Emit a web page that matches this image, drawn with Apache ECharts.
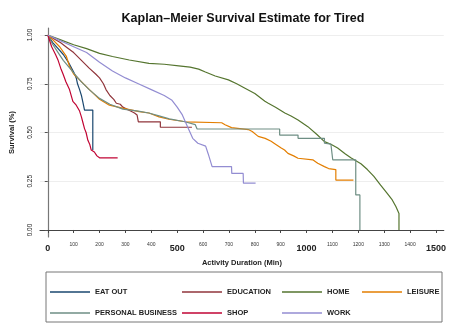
<!DOCTYPE html>
<html>
<head>
<meta charset="utf-8">
<script src="https://cdn.jsdelivr.net/npm/echarts@6/dist/echarts.min.js"></script>
<style>
  html, body { margin: 0; padding: 0; background: #fff; }
  #main { width: 449px; height: 324px; }
</style>
</head>
<body>
<div id="main"></div>
<script>
// survival curves: [minutes, survival]
const eatOut = [[0, 1], [20, 0.96], [40, 0.93], [60, 0.9], [80, 0.86], [100, 0.81], [110, 0.78],
  [115, 0.75], [123, 0.72], [130, 0.69], [135, 0.66], [142, 0.615], [174, 0.615], [174, 0.41]];
const education = [[0, 1], [25, 0.98], [50, 0.96], [75, 0.935], [100, 0.91], [130, 0.87], [160, 0.83],
  [185, 0.8], [200, 0.78], [215, 0.75], [225, 0.72], [240, 0.69], [255, 0.67], [265, 0.65], [280, 0.645],
  [290, 0.63], [305, 0.62], [320, 0.61], [335, 0.6], [345, 0.59], [350, 0.555], [435, 0.555],
  [435, 0.527], [557, 0.527]];
const home = [[0, 1], [50, 0.975], [100, 0.95], [150, 0.93], [200, 0.906], [250, 0.89], [315, 0.872],
  [391, 0.855], [450, 0.85], [506, 0.842], [550, 0.835], [583, 0.825], [609, 0.81], [647, 0.79],
  [698, 0.77], [730, 0.75], [762, 0.727], [800, 0.7], [839, 0.66], [852, 0.65], [880, 0.63], [916, 0.6],
  [940, 0.585], [967, 0.564], [1005, 0.53], [1040, 0.49], [1069, 0.453], [1094, 0.44], [1120, 0.42],
  [1150, 0.39], [1171, 0.37], [1184, 0.36], [1210, 0.34], [1235, 0.31], [1260, 0.275], [1286, 0.23],
  [1310, 0.19], [1331, 0.154], [1345, 0.12], [1357, 0.085], [1357, 0]];
const leisure = [[0, 1], [20, 0.975], [46, 0.94], [72, 0.89], [84, 0.84], [100, 0.8], [123, 0.77],
  [161, 0.72], [200, 0.67], [238, 0.64], [289, 0.625], [353, 0.607], [391, 0.6], [430, 0.58],
  [468, 0.568], [532, 0.555], [672, 0.55], [685, 0.54], [710, 0.525], [775, 0.515], [790, 0.505],
  [813, 0.48], [840, 0.47], [863, 0.455], [880, 0.44], [902, 0.42], [915, 0.41], [928, 0.393],
  [950, 0.38], [967, 0.368], [1024, 0.36], [1043, 0.342], [1069, 0.325], [1085, 0.315], [1113, 0.31],
  [1113, 0.256], [1181, 0.256]];
const personalBusiness = [[0, 1], [20, 0.95], [40, 0.91], [60, 0.87], [85, 0.83], [110, 0.79],
  [130, 0.76], [160, 0.72], [200, 0.675], [240, 0.645], [290, 0.62], [350, 0.61], [390, 0.6],
  [430, 0.585], [470, 0.57], [530, 0.555], [570, 0.54], [577, 0.518], [896, 0.518], [896, 0.487],
  [967, 0.487], [967, 0.47], [1069, 0.47], [1069, 0.445], [1094, 0.44], [1101, 0.436], [1101, 0.36],
  [1190, 0.36], [1190, 0.18], [1206, 0.18], [1206, 0]];
const shop = [[0, 1], [15, 0.94], [30, 0.9], [40, 0.87], [50, 0.83], [59, 0.8], [70, 0.76], [84, 0.72],
  [97, 0.66], [110, 0.64], [123, 0.61], [130, 0.58], [136, 0.55], [142, 0.52], [148, 0.5], [155, 0.46],
  [162, 0.44], [168, 0.41], [180, 0.4], [190, 0.38], [200, 0.37], [270, 0.37]];
const work = [[0, 1], [50, 0.97], [100, 0.94], [150, 0.91], [200, 0.86], [250, 0.815], [300, 0.78],
  [350, 0.75], [400, 0.72], [450, 0.69], [480, 0.665], [500, 0.63], [520, 0.59], [540, 0.53],
  [560, 0.47], [580, 0.445], [610, 0.43], [620, 0.39], [635, 0.325], [710, 0.325], [711, 0.29],
  [755, 0.29], [756, 0.24], [803, 0.24]];

const groups = ['EAT OUT', 'EDUCATION', 'HOME', 'LEISURE', 'PERSONAL BUSINESS', 'SHOP', 'WORK'];
const curves = [eatOut, education, home, leisure, personalBusiness, shop, work];
const colors = ['#1a476f', '#90353b', '#55752f', '#e37e00', '#6e8e84', '#c10534', '#938dd2'];
const xTicks = [0, 100, 200, 300, 400, 500, 600, 700, 800, 900, 1000, 1100, 1200, 1300, 1400, 1500];
const yTicks = [0, 0.25, 0.5, 0.75, 1];

const chart = echarts.init(document.getElementById('main'));

const legendText = {
  fontSize: 7.5, fontWeight: 'bold', color: '#222', fontFamily: 'Liberation Sans', lineHeight: 10
};
const legendCol = (names, left) => ({
  data: names,
  orient: 'vertical',
  left: left,
  top: 287,
  padding: 0,
  icon: 'rect',
  itemWidth: 40,
  itemHeight: 1.3,
  itemGap: 11,
  selectedMode: false,
  textStyle: legendText
});

const option = {
  animation: false,
  color: colors,
  grid: { left: 40, right: 2, top: 28, bottom: 87 },
  graphic: [
    {
      type: 'text',
      style: {
        text: 'Kaplan\u2013Meier Survival Estimate for Tired',
        x: 243, y: 12, textAlign: 'center',
        font: 'bold 12.5px "Liberation Sans"', fill: '#111'
      }
    },
    {
      type: 'rect',
      shape: { x: 46, y: 272, width: 396, height: 50 },
      style: { fill: 'none', stroke: '#777', lineWidth: 1 }
    }
  ],
  legend: [
    legendCol(['EAT OUT', 'PERSONAL BUSINESS'], 50),
    legendCol(['EDUCATION', 'SHOP'], 182),
    legendCol(['HOME', 'WORK'], 282),
    legendCol(['LEISURE'], 362)
  ],
  xAxis: {
    type: 'value',
    min: -30,
    max: 1530,
    name: 'Activity Duration (Min)',
    nameLocation: 'middle',
    nameGap: 22,
    nameTextStyle: { fontSize: 7.5, fontWeight: 'bold', color: '#222', fontFamily: 'Liberation Sans' },
    axisLine: { lineStyle: { color: '#444', width: 1.2 } },
    axisTick: { customValues: xTicks, length: 3, lineStyle: { color: '#444' } },
    axisLabel: {
      customValues: xTicks,
      margin: 5,
      color: '#222',
      fontFamily: 'Liberation Sans',
      formatter: v => (v % 500 === 0 ? '{big|' + v + '}' : '{small|' + v + '}'),
      rich: {
        big: { fontSize: 9, fontWeight: 'bold', color: '#222', padding: [2, 0, 0, 0] },
        small: { fontSize: 5, color: '#333' }
      }
    },
    splitLine: { show: false }
  },
  yAxis: {
    type: 'value',
    min: -0.036,
    max: 1.036,
    name: 'Survival (%)',
    nameLocation: 'middle',
    nameGap: 24,
    nameTextStyle: { fontSize: 7.5, fontWeight: 'bold', color: '#222', fontFamily: 'Liberation Sans' },
    axisLine: { show: true, lineStyle: { color: '#777', width: 1.2 } },
    axisTick: { show: true, customValues: yTicks, length: 3, lineStyle: { color: '#555' } },
    axisLabel: {
      customValues: yTicks,
      rotate: 90,
      margin: 6,
      fontSize: 6.5,
      color: '#222',
      fontFamily: 'Liberation Sans',
      formatter: v => v.toFixed(2)
    },
    splitLine: { show: true, lineStyle: { color: '#eeeeee', width: 1 } }
  },
  series: groups.map((g, i) => ({
    name: g,
    type: 'line',
    data: curves[i],
    symbol: 'none',
    lineStyle: { width: 1.2, color: colors[i] },
    itemStyle: { color: colors[i] }
  }))
};

chart.setOption(option);
</script>
</body>
</html>
